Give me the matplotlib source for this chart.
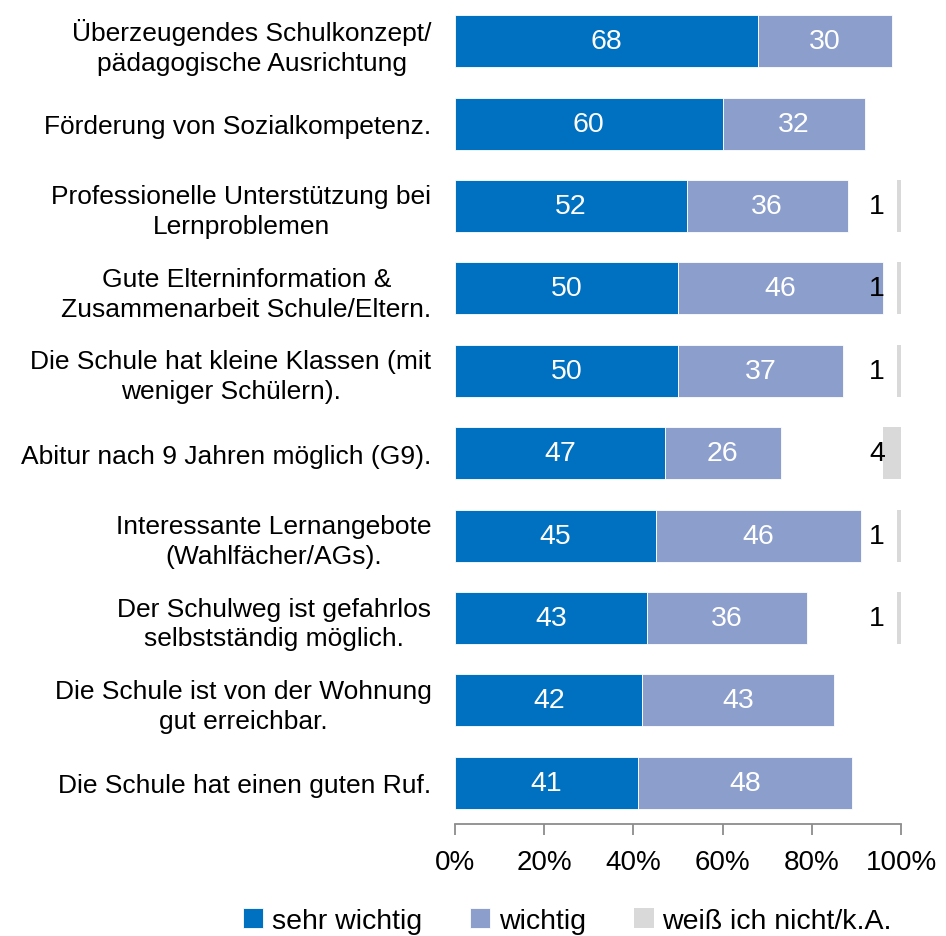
import numpy as np
import matplotlib.pyplot as plt

plt.rcParams["font.family"] = ["Liberation Sans", "DejaVu Sans"]

# ============================================================
# DATA
# ============================================================

categories = [
    "Überzeugendes Schulkonzept/\npädagogische Ausrichtung",
    "Förderung von Sozialkompetenz.",
    "Professionelle Unterstützung bei\nLernproblemen",
    "Gute Elterninformation &\nZusammenarbeit Schule/Eltern.",
    "Die Schule hat kleine Klassen (mit\nweniger Schülern).",
    "Abitur nach 9 Jahren möglich (G9).",
    "Interessante Lernangebote\n(Wahlfächer/AGs).",
    "Der Schulweg ist gefahrlos\nselbstständig möglich.",
    "Die Schule ist von der Wohnung\ngut erreichbar.",
    "Die Schule hat einen guten Ruf.",
]
sehr_wichtig = [68, 60, 52, 50, 50, 47, 45, 43, 42, 41]
wichtig      = [30, 32, 36, 46, 37, 26, 46, 36, 43, 48]
weiss_nicht  = [0, 0, 1, 1, 1, 4, 1, 1, 0, 0]

series_names = ["sehr wichtig", "wichtig", "weiß ich nicht/k.A."]
colors = ["#0070C0", "#8C9ECC", "#D9D9D9"]

# ============================================================
# PLOT
# ============================================================

fig = plt.figure(figsize=(9.46, 9.37), dpi=100)
ax = fig.add_axes([0.481, 0.1195, 0.4715, 0.8795])

y = np.arange(len(categories))
sw = np.array(sehr_wichtig)
w = np.array(wichtig)
wn = np.array(weiss_nicht)
h = 0.63

ax.barh(y, sw, height=h, color=colors[0], edgecolor="white", linewidth=0.6,
        label=series_names[0])
ax.barh(y, w, left=sw, height=h, color=colors[1], edgecolor="white",
        linewidth=0.6, label=series_names[1])
ax.barh(y, wn, left=100 - wn, height=h, color=colors[2], linewidth=0,
        label=series_names[2])

# value labels (white inside bars, black for "weiß ich nicht")
for i in range(len(y)):
    ax.text(sw[i] / 2, y[i], str(sw[i]), ha="center", va="center",
            color="white", fontsize=20.5)
    ax.text(sw[i] + w[i] / 2, y[i], str(w[i]), ha="center", va="center",
            color="white", fontsize=20.5)
    if wn[i] > 0:
        ax.text(94.6, y[i], str(wn[i]), ha="center", va="center",
                color="black", fontsize=20.5)

ax.set_xlim(0, 100)
ax.set_ylim(len(y) - 0.5, -0.5)
ax.set_yticks(y)
ax.set_yticklabels(categories, fontsize=19, multialignment="center",
                   linespacing=1.3)
ax.tick_params(axis="y", length=0, pad=17)
ax.set_xticks(range(0, 101, 20))
ax.set_xticklabels([f"{v}%" for v in range(0, 101, 20)], fontsize=20)
ax.tick_params(axis="x", length=8, color="#8C8C8C", width=1.3, pad=10)

for side in ["left", "right", "top"]:
    ax.spines[side].set_visible(False)
ax.spines["bottom"].set_color("#8C8C8C")
ax.spines["bottom"].set_linewidth(1.3)

handles, labels = ax.get_legend_handles_labels()
fig.legend(handles, labels, loc="center", bbox_to_anchor=(0.6, 0.016),
           ncol=3, frameon=False, fontsize=20.5, handlelength=0.7,
           handleheight=0.7, handletextpad=0.3, columnspacing=1.7)

plt.savefig("out.png", dpi=100)
